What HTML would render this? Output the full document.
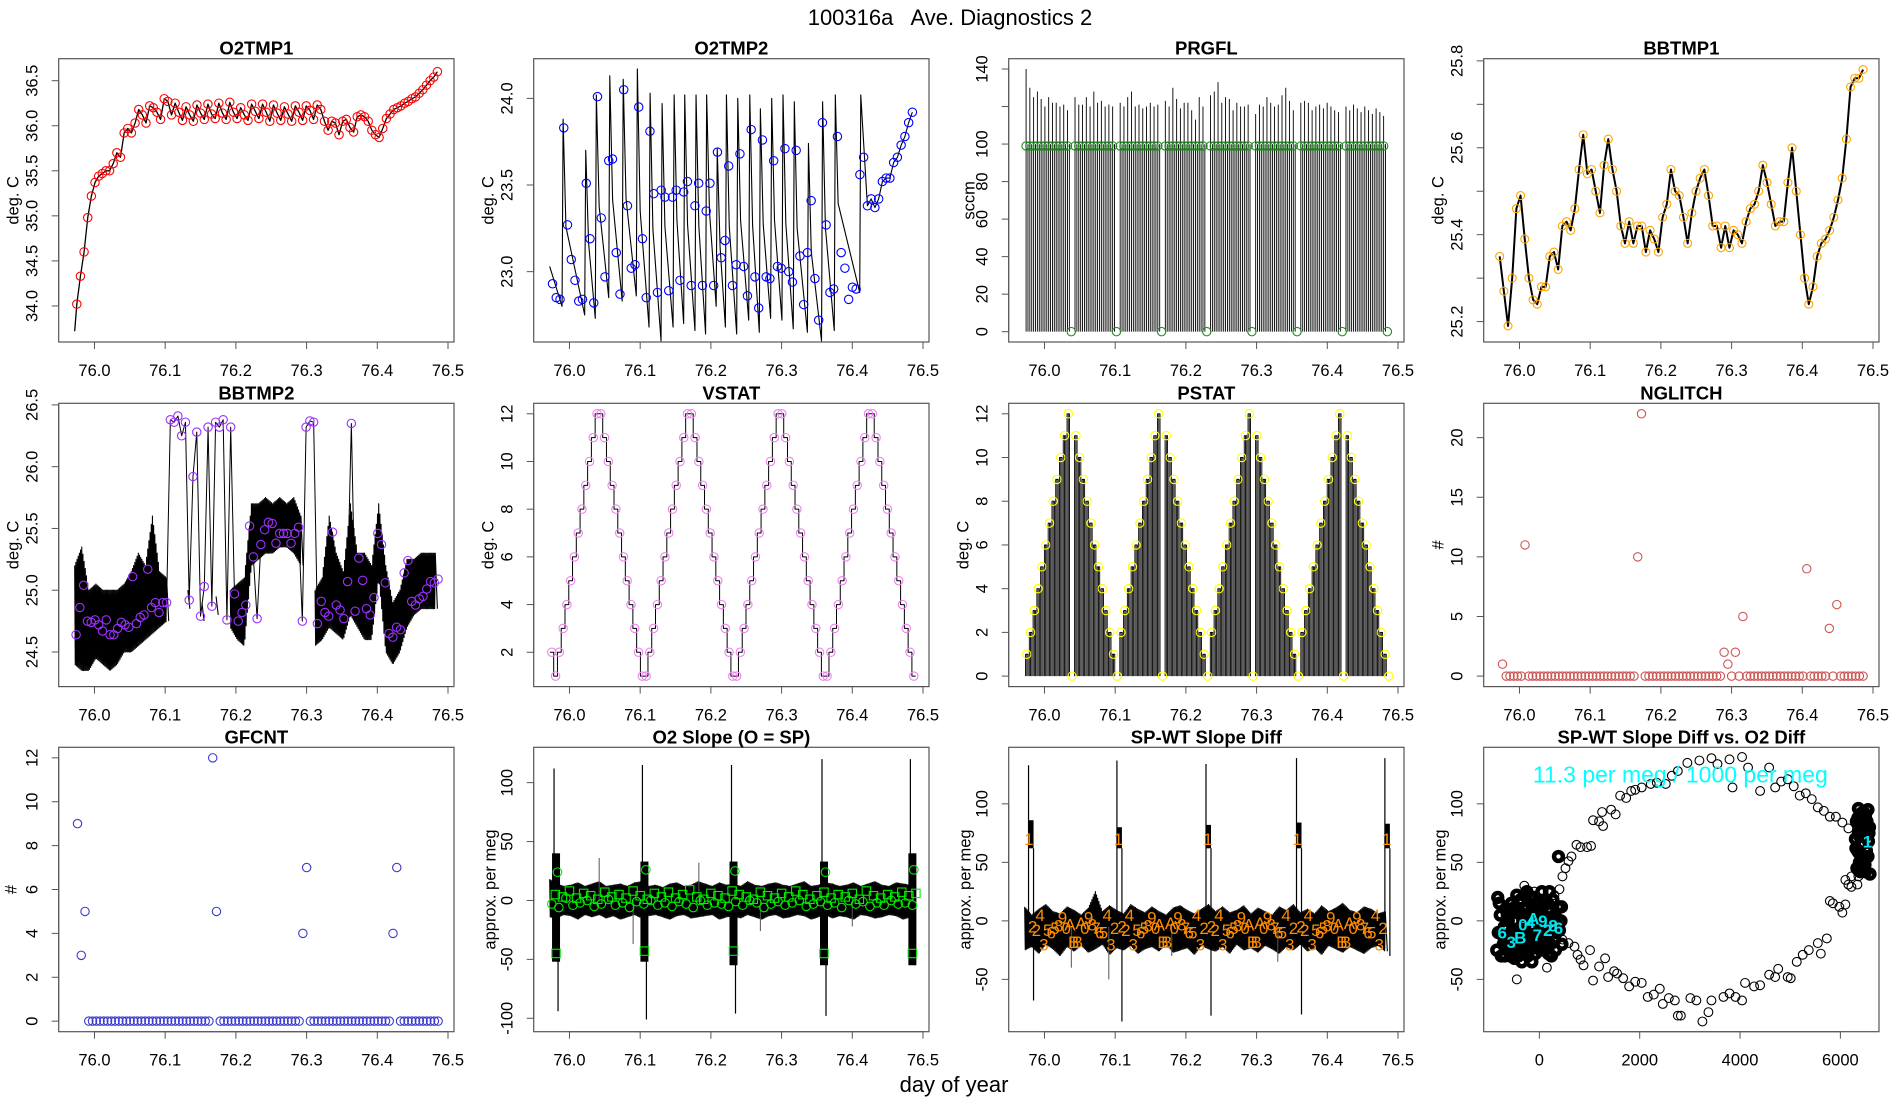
<!DOCTYPE html>
<html><head><meta charset="utf-8"><title>100316a Ave. Diagnostics 2</title>
<style>html,body{margin:0;padding:0;background:#fff;}svg{display:block;font-family:"Liberation Sans",sans-serif;}</style>
</head><body>
<svg id="chart" xmlns="http://www.w3.org/2000/svg" width="1900" height="1100" viewBox="0 0 1900 1100">
<rect x="0" y="0" width="1900" height="1100" fill="#fff"/>
<text x="950" y="25" text-anchor="middle" font-size="22" fill="#000" style="white-space:pre">100316a   Ave. Diagnostics 2</text>
<text x="954" y="1092" text-anchor="middle" font-size="22" fill="#000">day of year</text>
</svg>
<script>
// ---------- data ----------
const timeTicks=[76.0,76.1,76.2,76.3,76.4,76.5];
const timeTickLabels=["76.0","76.1","76.2","76.3","76.4","76.5"];
const o2tmp1Start=[75.972,33.72];
const o2tmp1Vals=[34.02,34.33,34.6,34.98,35.22,35.37,35.44,35.47,35.5,35.5,35.58,35.7,35.65,35.92,35.97,35.92,36.03,36.18,36.12,36.03,36.22,36.2,36.15,36.07,36.3,36.27,36.12,
36.25,36.15,36.06,36.21,36.12,36.05,36.23,36.14,36.07,36.24,36.13,36.08,36.25,36.14,36.07,36.26,36.15,36.08,36.2,36.12,36.06,36.24,36.16,36.08,36.24,36.15,36.05,36.23,36.14,36.06,36.21,36.13,36.05,36.22,36.15,36.06,36.22,36.17,36.07,36.23,36.18,
36.05,35.95,36.05,36.03,35.9,36.05,36.07,35.98,35.93,36.1,36.12,36.1,36.05,35.95,35.9,35.87,35.97,36.08,36.13,36.18,36.2,36.22,36.25,36.27,36.3,36.32,36.36,36.4,36.45,36.5,36.54,36.6];
const o2tmp1T0=75.975, o2tmp1T1=76.485;
const o2tmp2PeakT=[75.991,76.023,76.038,76.057,76.076,76.096,76.114,76.131,76.148,76.163,76.179,76.194,76.209,76.222,76.238,76.255,76.270,76.286,76.302,76.318,76.338,76.358,76.376,76.412];
const o2tmp2PeakV=[23.88,23.70,24.02,24.13,24.11,24.17,24.03,23.97,24.02,24.02,24.02,24.02,23.71,24.02,24.0,24.02,23.94,24.0,24.02,23.98,23.74,23.98,24.02,24.02];
const o2tmp2TroughV=[22.8,22.75,22.73,22.85,22.83,22.86,22.68,22.6,22.68,22.7,22.66,22.64,22.8,22.68,22.64,22.72,22.65,22.73,22.72,22.67,22.65,22.6,22.66,22.88];
const o2tmp2Start=[75.972,23.03];
const o2tmp2Circ=[22.93,22.85,22.84,23.83,23.27,23.07,22.95,22.83,22.84,23.51,23.19,22.82,24.01,23.31,22.97,23.64,23.65,23.11,22.87,24.05,23.38,23.02,23.04,23.95,23.19,22.85,23.81,23.45,22.88,23.47,23.43,22.89,23.43,23.47,22.95,23.46,23.52,22.92,23.38,23.51,22.92,23.35,23.51,22.92,23.69,23.08,23.18,23.61,22.92,23.04,23.68,23.03,22.86,23.82,22.97,22.79,23.76,22.97,22.96,23.64,23.03,23.02,23.71,23.00,22.94,23.70,23.09,22.81,23.11,23.41,22.96,22.72,23.86,23.27,22.88,22.90,23.78,23.11,23.02,22.84,22.91,22.90,23.56,23.66,23.38,23.42,23.37,23.42,23.52,23.54,23.54,23.63,23.66,23.73,23.78,23.86,23.92];
const o2tmp2T0=75.976, o2tmp2T1=76.485;
const prgflSpike=[140,130,125,128,124,120,125,122,122,120,121,118,0,125,121,121,125,120,128,122,123,120,121,120,0,122,120,125,128,120,121,119,120,122,120,121,0,123,120,130,124,119,122,122,118,113,125,120,0,126,128,133,122,125,124,118,122,120,120,121,0,116,121,120,125,122,120,121,126,130,123,118,0,122,123,122,118,120,121,119,122,120,118,117,0,120,118,121,119,117,120,118,116,119,117,115,0];
const prgflT0=75.974, prgflT1=76.485;
const bbtmp1Vals=[25.35,25.27,25.19,25.3,25.46,25.49,25.39,25.3,25.25,25.24,25.28,25.28,25.35,25.36,25.32,25.42,25.43,25.41,25.46,25.55,25.63,25.54,25.55,25.5,25.45,25.56,25.62,25.55,25.5,25.42,25.38,25.43,25.38,25.42,25.42,25.36,25.41,25.39,25.36,25.44,25.47,25.55,25.5,25.49,25.44,25.38,25.45,25.5,25.53,25.55,25.49,25.42,25.42,25.37,25.42,25.37,25.41,25.4,25.38,25.43,25.46,25.47,25.5,25.56,25.52,25.47,25.42,25.43,25.43,25.52,25.6,25.5,25.4,25.3,25.24,25.28,25.35,25.38,25.39,25.41,25.44,25.48,25.53,25.62,25.74,25.76,25.76,25.78];
const bbtmp1T0=75.972, bbtmp1T1=76.486;
const bbtmp2Circ=[24.64,24.86,25.04,24.75,24.74,24.76,24.72,24.67,24.76,24.64,24.64,24.69,24.74,24.72,24.70,25.11,24.73,24.78,24.80,25.17,24.86,24.90,24.82,24.90,24.90,26.38,26.36,26.41,26.25,26.36,24.92,25.92,26.28,24.79,25.03,26.32,24.87,26.36,26.32,26.38,24.76,26.32,24.97,24.75,24.82,24.88,25.52,25.27,24.77,25.37,25.49,25.55,25.54,25.38,25.46,25.46,25.46,25.38,25.46,25.51,24.75,26.32,26.37,26.36,24.73,24.91,24.82,24.79,25.47,24.88,24.84,24.77,25.07,26.35,24.83,25.26,25.08,24.85,24.80,24.94,25.46,25.37,25.06,24.65,24.62,24.70,24.68,25.14,25.24,24.91,24.88,24.93,24.95,25.01,25.07,25.06,25.09];
const bbtmp2T0=75.974, bbtmp2T1=76.486;
const bbtmp2Hi=[25.2,25.35,25.0,25.05,25.0,25.0,25.0,25.05,25.15,25.3,25.2,25.6,25.15,25.1,null,null,25.0,null,24.9,null,24.95,null,25.0,25.05,25.1,25.7,25.7,25.75,25.7,25.75,25.7,25.75,25.6,null,25.0,25.1,25.6,25.3,25.15,25.7,25.3,25.3,25.2,25.7,25.2,24.9,25.0,25.25,25.25,25.3,25.3,25.3];
const bbtmp2Lo=[24.4,24.35,24.35,24.45,24.4,24.35,24.4,24.5,24.5,24.55,24.6,24.65,24.7,24.75,null,null,24.85,null,24.75,null,24.8,null,24.7,24.6,24.55,25.2,25.25,25.3,25.3,25.35,25.35,25.3,25.2,null,24.55,24.6,24.7,24.65,24.6,24.8,24.7,24.6,24.6,25.1,24.5,24.4,24.5,24.7,24.8,24.85,24.85,24.85];
const bandT0=75.975, bandDt=0.01;
const vstatVals=[2,1,2,3,4,5,6,7,8,9,10,11,12,12,11,10,9,8,7,6,5,4,3,2,1,1,2,3,4,5,6,7,8,9,10,11,12,12,11,10,9,8,7,6,5,4,3,2,1,1,2,3,4,5,6,7,8,9,10,11,12,12,11,10,9,8,7,6,5,4,3,2,1,1,2,3,4,5,6,7,8,9,10,11,12,12,11,10,9,8,7,6,5,4,3,2,1];
const pstatVals=[1,2,3,4,5,6,7,8,9,10,11,12,0,11,10,9,8,7,6,5,4,3,2,1,0,2,3,4,5,6,7,8,9,10,11,12,0,11,10,9,8,7,6,5,4,3,2,1,0,2,3,4,5,6,7,8,9,10,11,12,0,11,10,9,8,7,6,5,4,3,2,1,0,2,3,4,5,6,7,8,9,10,11,12,0,11,10,9,8,7,6,5,4,3,2,1,0];
const statT0=75.975, statT1=76.487;
const nglitchVals=[1,0,0,0,0,0,11,0,0,0,0,0,0,0,0,0,0,0,0,0,0,0,0,0,0,0,0,0,0,0,0,0,0,0,0,0,10,22,0,0,0,0,0,0,0,0,0,0,0,0,0,0,0,0,0,0,0,0,0,2,1,0,2,0,5,0,0,0,0,0,0,0,0,0,0,0,0,0,0,0,0,9,0,0,0,0,0,4,0,6,0,0,0,0,0,0,0];
const gfcntVals=[9,3,5,0,0,0,0,0,0,0,0,0,0,0,0,0,0,0,0,0,0,0,0,0,0,0,0,0,0,0,0,0,0,0,0,0,12,5,0,0,0,0,0,0,0,0,0,0,0,0,0,0,0,0,0,0,0,0,0,0,4,7,0,0,0,0,0,0,0,0,0,0,0,0,0,0,0,0,0,0,0,0,0,0,4,7,0,0,0,0,0,0,0,0,0,0,0];
const countT0=75.976, countT1=76.486;
const slopeHi=[18,14,12,13,15,12,14,16,12,13,14,12,15,16,12,13,11,14,15,12,13,16,14,12,15,13,14,12,16,13,12,14,15,13,12,14,16,12,13,15,14,12,13,15,12,14,16,13,12,15,14,13];
const slopeLo=[-14,-15,-12,-13,-16,-12,-14,-12,-15,-13,-16,-14,-12,-15,-13,-12,-14,-16,-13,-12,-15,-14,-13,-12,-16,-14,-13,-15,-12,-14,-16,-13,-12,-15,-14,-12,-13,-16,-14,-12,-15,-13,-14,-16,-12,-13,-15,-14,-12,-13,-16,-14];
const slopeCirc=[-3,-6,2,-4,-2,0,-5,-3,1,-4,-2,-6,-1,-3,0,-4,-2,-5,-1,-3,-6,0,-4,-2,-3,-5,-1,-4,0,-2,-6,-3,-1,-4,-2,0,-5,-3,-1,-4,-2,-6,0,-3,-1,-5,-2,-4,0,-3,-2,-4];
const slopeSq=[5,3,8,2,6,4,1,7,3,5,2,8,4,1,6,3,7,2,5,9,3,1,6,4,2,8,5,3,1,7,4,2,6,3,8,5,1,4,7,2,5,3,6,1,8,4,2,5,3,7,4,6];
const burstT=[75.981,76.106,76.232,76.360,76.485];
const slopeBurstHi=[40,33,33,33,40];
const slopeBurstLo=[-52,-52,-55,-55,-55];
const slopeSpikeTop=[112,115,115,120,120];
const slopeSpikeBot=[-94,-101,-96,-98,-55];
const slopeBurstCirc=[24,26,25,24,26];
const slopeBurstSq=[-45,-43,-43,-45,-45];
const slopeExtraT=[76.042,76.09,76.183,76.27,76.4];
const slopeExtraV=[36,-37,32,-26,-22];
const spwtHi=[12,5,10,14,8,6,12,9,5,11,25,8,13,9,6,14,10,7,12,8,5,11,13,9,6,10,14,8,12,7,9,13,6,11,8,5,12,9,14,7,10,6,13,8,11,15,9,7,12,10,6,8];
const spwtLo=[-25,-22,-28,-20,-24,-30,-22,-26,-21,-27,-24,-20,-29,-23,-25,-21,-28,-24,-22,-26,-20,-27,-25,-23,-29,-21,-24,-26,-22,-28,-20,-25,-23,-27,-21,-24,-28,-22,-25,-20,-26,-23,-29,-21,-24,-27,-22,-25,-28,-23,-21,-26];
const spwtPlatLo=[62,62,62,62,62];
const spwtPlatHi=[86,80,82,84,83];
const spwtSpikeTop=[133,137,134,139,139];
const spwtSpikeBot=[-68,-86,-81,-80,-30];
const spwtExtraT=[76.038,76.091,76.18,76.33];
const spwtExtraV=[-40,-50,-30,-35];
const spwtChars=["1","2","2","4","3","5","6","5","8","9","0","A","B","B","A","0","9","8","7","6","5","4","3","2","1","2","2","4","3","5","6","5","8","9","0","A","B","B","A","0","9","8","7","6","5","4","3","2","1","2","2","4","3","5","6","5","8","9","0","A","B","B","A","0","9","8","7","6","5","4","3","2","1","2","2","4","3","5","6","5","8","9","0","A","B","B","A","0","9","8","7","6","5","4","3","2","1"];
const spwtCharVals=[70,-5,-8,5,-20,-8,-10,-6,-4,3,-6,-3,-18,-18,-2,-6,3,-3,-6,-10,-10,5,-20,-6,70,-5,-8,5,-20,-8,-10,-6,-4,3,-6,-3,-18,-18,-2,-6,3,-3,-6,-10,-10,5,-20,-6,70,-5,-8,5,-20,-8,-10,-6,-4,3,-6,-3,-18,-18,-2,-6,3,-3,-6,-10,-10,5,-20,-6,70,-5,-8,5,-20,-8,-10,-6,-4,3,-6,-3,-18,-18,-2,-6,3,-3,-6,-10,-10,5,-20,-6,70];
const spwtT0=75.978, spwtT1=76.484;
const ringX=[400,460,520,580,640,740,820,950,1030,1070,1190,1250,1270,1430,1520,1610,1730,1830,1910,2040,2220,2340,2520,2640,2760,2950,3190,3430,3550,3790,3850,4040,4160,4400,4580,4700,4820,4950,5070,5190,5310,5430,5550,5670,5790,5910,6040,6160,6340,6460,6520,6460,6340,6220,6100,6340,6160,
460,580,700,760,820,880,1010,1070,1190,1310,1370,1490,1550,1670,1790,1910,2040,2160,2280,2400,2460,2580,2700,2760,2820,3010,3130,3250,3370,3430,3670,3790,3910,4040,4100,4280,4400,4580,4700,4760,4950,5010,5130,5250,5370,5550,5610,5730,5790,5850,5980,6040,6100,6220,6360,6460,-450,-300,-100,150,300];
const ringY=[27,38,45,51,55,65,63,63,64,86,85,93,81,95,91,107,105,111,112,114,117,118,117,124,128,135,137,139,134,138,114,140,131,111,131,114,119,121,115,107,109,104,97,94,89,89,84,79,78,74,59,47,42,38,35,31,31,
-16,-19,-22,-29,-33,-38,-25,-51,-39,-32,-48,-43,-45,-49,-56,-52,-53,-65,-63,-58,-71,-66,-68,-81,-81,-66,-68,-86,-78,-68,-65,-62,-65,-68,-53,-56,-55,-46,-48,-41,-48,-49,-35,-29,-25,-19,-28,-15,17,15,12,7,14,29,38,45,-50,30,25,-40,22];
const clusterX=[-700,-650,-600,-550,-500,-450,-400,-350,-300,-250,-200,-150,-100,-50,0,50,100,150,200,250,300,350,400,450,-720,-680,-620,-580,-520,-480,-420,-380,-320,-280,-220,-180,-120,-80,-30,20,70,120,170,220,270,320,380,430,-740,-690,-640,-560,-460,-360,-260,-160,-60,40,140,240,340,440,-600,-500,-400,-300,-200,-100,0,100,200,300,-350,-150,50,-250,-450,-820,-780,-850,-800,-760,-830,-700,-650,-560,-480,-420,-330,-230,-130,-20,80,180,280,380,
6300,6320,6340,6360,6380,6400,6420,6440,6460,6480,6500,6520,6540,6560,6580,6310,6330,6350,6370,6390,6410,6430,6450,6470,6490,6510,6530,6550,6570,6590,6400,6450,6500,6550,6360,6420,6480,6560];
const clusterY=[-5,-15,-25,-10,0,-20,-8,5,-15,-28,-5,10,-18,-2,15,-12,3,-22,8,-6,-15,2,-8,-20,-20,10,0,-30,-22,12,-30,18,-3,10,-18,20,2,-28,-15,-25,12,-8,15,-20,18,-25,12,0,-12,-30,5,15,-12,-20,-12,-10,8,0,-2,-30,-10,12,8,-32,8,22,-25,20,-20,-25,25,5,-35,-35,25,25,22,-10,5,-25,15,-30,20,-18,-5,10,-22,-15,0,-30,-8,-20,5,-28,-5,
55,70,85,60,75,50,88,65,80,55,72,90,60,78,68,80,62,45,88,58,72,52,90,66,84,48,75,85,55,75,40,42,45,42,95,96,92,92];
const scatLabels=["6","3","B","0","4","A","7","9","2","8","6","1"];
const scatLabX=[-740,-560,-380,-330,-180,-120,-40,70,170,270,380,6540];
const scatLabY=[-10,-18,-14,-3,-1,2,-12,0,-8,-4,-6,68];

// ---------- helpers ----------
const NS='http://www.w3.org/2000/svg';
const svg=document.getElementById('chart');
function mk(tag,attrs,parent){const e=document.createElementNS(NS,tag);for(const k in attrs)e.setAttribute(k,attrs[k]);(parent||svg).appendChild(e);return e;}
const TIME_LIM=[75.9494,76.5085];
const ROW_TOP=[58.7,403.3,747.3], ROW_H=[283.3,283.3,284.4];
function makePanel(col,row,xlim,ylim,key){
  const left=58.7+475*col, top=ROW_TOP[row], w=395.3, h=ROW_H[row];
  const g=mk('g',{});
  
  
  const cp=mk('clipPath',{id:'clip-'+key},g);
  mk('rect',{x:left,y:top,width:w,height:h},cp);
  const data=mk('g',{'clip-path':'url(#clip-'+key+')'},g);
  
  
  return {g,data,left,top,w,h,
    x:t=>left+(t-xlim[0])/(xlim[1]-xlim[0])*w,
    y:v=>top+h-(v-ylim[0])/(ylim[1]-ylim[0])*h};
}
function axes(p,key,title,ylab,xt,xl,yt,yl,ylabOff){
  const b=mk('rect',{x:p.left,y:p.top,width:p.w,height:p.h,fill:'none',stroke:'#555','stroke-width':1.2},p.g);
  
  
  const t=mk('text',{x:p.left+p.w/2,y:p.top-4,'text-anchor':'middle','font-size':18.5,'font-weight':'bold'},p.g);
  t.textContent=title;
  
  
  const xa=mk('g',{},p.g);
  
  
  const bot=p.top+p.h;
  mk('line',{x1:p.x(xt[0]),x2:p.x(xt[xt.length-1]),y1:bot,y2:bot,stroke:'#555'},xa);
  xt.forEach((v,i)=>{const X=p.x(v);
    mk('line',{x1:X,x2:X,y1:bot,y2:bot+7,stroke:'#555'},xa);
    const l=mk('text',{x:X,y:bot+34,'text-anchor':'middle','font-size':16.5},xa);
    l.textContent=xl[i];
    
    });
  const ya=mk('g',{},p.g);
  
  
  mk('line',{x1:p.left,x2:p.left,y1:p.y(yt[0]),y2:p.y(yt[yt.length-1]),stroke:'#555'},ya);
  yt.forEach((v,i)=>{const Y=p.y(v);
    mk('line',{x1:p.left-7,x2:p.left,y1:Y,y2:Y,stroke:'#555'},ya);
    if(yl[i]!==''){const bx=p.left-21;
      const l=mk('text',{x:bx,y:Y,'text-anchor':'middle','font-size':16.5,transform:'rotate(-90 '+bx+' '+Y+')'},ya);
      l.textContent=yl[i];
      
      }});
  const lx=p.left-ylabOff+6, ly=p.top+p.h/2;
  const yt2=mk('text',{x:lx,y:ly,'text-anchor':'middle','font-size':16.5,transform:'rotate(-90 '+lx+' '+ly+')'},p.g);
  yt2.textContent=ylab;
  
  
}
function seqT(t0,t1,n,i){return t0+(t1-t0)*i/(n-1);}
function poly(p,pts,stroke,sw,name){
  const e=mk('polyline',{points:pts.map(q=>p.x(q[0]).toFixed(2)+','+p.y(q[1]).toFixed(2)).join(' '),fill:'none',stroke:stroke,'stroke-width':sw,'stroke-linejoin':'round'},p.data);
  
  
  return e;
}
function circles(p,pts,color,name,r,sw){
  const g=mk('g',{fill:'none',stroke:color,'stroke-width':sw||1.1},p.data);
  
  
  pts.forEach(q=>{const c=mk('circle',{cx:p.x(q[0]).toFixed(2),cy:p.y(q[1]).toFixed(2),r:r||4.2},g);
    
    });
}
function band(p,hi,lo,t0,dt,sub,name,sw){
  const segs=[];let cur=[];
  for(let i=0;i<hi.length;i++){
    if(hi[i]===null){if(cur.length)segs.push(cur);cur=[];continue;}
    if(i+1<hi.length&&hi[i+1]!==null){
      for(let k=0;k<sub;k++){const f=k/sub,t=t0+dt*(i+f);
        const h=hi[i]+(hi[i+1]-hi[i])*f,l=lo[i]+(lo[i+1]-lo[i])*f;
        cur.push([t,k%2?l:h]);}
    }else{cur.push([t0+dt*i,hi[i]]);cur.push([t0+dt*i+dt*0.3,lo[i]]);}
  }
  if(cur.length)segs.push(cur);
  segs.forEach(s=>poly(p,s,'#000',sw||1,name));
}

// ---------- O2TMP1 ----------
{const p=makePanel(0,0,TIME_LIM,[33.6,36.744],'o2tmp1');
 const n=o2tmp1Vals.length;
 const pts=[o2tmp1Start].concat(o2tmp1Vals.map((v,i)=>[seqT(o2tmp1T0,o2tmp1T1,n,i),v]));
 poly(p,pts,'#000',1.3,'o2tmp1-line');
 circles(p,pts.slice(1),'#ff0000','o2tmp1-markers');
 axes(p,'o2tmp1','O2TMP1','deg. C',timeTicks,timeTickLabels,[34,34.5,35,35.5,36,36.5],['34.0','34.5','35.0','35.5','36.0','36.5'],46);}

// ---------- O2TMP2 ----------
{const p=makePanel(1,0,TIME_LIM,[22.594,24.229],'o2tmp2');
 const n=o2tmp2Circ.length;
 const circ=o2tmp2Circ.map((v,i)=>[seqT(o2tmp2T0,o2tmp2T1,n,i),v]);
 const pts=[o2tmp2Start];
 for(let i=0;i<o2tmp2PeakT.length;i++){
   pts.push([o2tmp2PeakT[i]-0.0015,o2tmp2TroughV[i]]);
   pts.push([o2tmp2PeakT[i],o2tmp2PeakV[i]]);
   if(i+1<o2tmp2PeakT.length){const nt=o2tmp2TroughV[i+1];
     pts.push([o2tmp2PeakT[i]+0.004,nt+(o2tmp2PeakV[i]-nt)*0.45]);}
 }
 circ.filter(q=>q[0]>76.418).forEach(q=>pts.push(q));
 poly(p,pts,'#000',1.1,'o2tmp2-line');
 circles(p,circ,'#0000ff','o2tmp2-markers');
 axes(p,'o2tmp2','O2TMP2','deg. C',timeTicks,timeTickLabels,[23,23.5,24],['23.0','23.5','24.0'],46);}

// ---------- PRGFL ----------
{const p=makePanel(2,0,TIME_LIM,[-5.5,145.5],'prgfl');
 const n=prgflSpike.length, dt=(prgflT1-prgflT0)/(n-1);
 const g=mk('g',{stroke:'#000','stroke-width':0.9},p.data);
 
 
 prgflSpike.forEach((v,i)=>{if(v===0)return;const t=prgflT0+dt*i;
   mk('line',{x1:p.x(t),x2:p.x(t),y1:p.y(0),y2:p.y(v)},g);
   mk('line',{x1:p.x(t+dt/2),x2:p.x(t+dt/2),y1:p.y(0),y2:p.y(100)},g);});
 circles(p,prgflSpike.map((v,i)=>[prgflT0+dt*i,v===0?0:99]),'#228b22','prgfl-markers');
 axes(p,'prgfl','PRGFL','sccm',timeTicks,timeTickLabels,[0,20,40,60,80,100,120,140],['0','20','40','60','80','100','','140'],40);}

// ---------- BBTMP1 ----------
{const p=makePanel(3,0,TIME_LIM,[25.153,25.805],'bbtmp1');
 const n=bbtmp1Vals.length;
 const pts=bbtmp1Vals.map((v,i)=>[seqT(bbtmp1T0,bbtmp1T1,n,i),v]);
 poly(p,pts,'#000',2,'bbtmp1-line');
 circles(p,pts,'#ffa500','bbtmp1-markers',4);
 axes(p,'bbtmp1','BBTMP1','deg. C',timeTicks,timeTickLabels,[25.2,25.3,25.4,25.5,25.6,25.7,25.8],['25.2','','25.4','','25.6','','25.8'],46);}

// ---------- BBTMP2 ----------
{const p=makePanel(0,1,TIME_LIM,[24.22,26.513],'bbtmp2');
 band(p,bbtmp2Hi,bbtmp2Lo,bandT0-0.003,bandDt,12,'bbtmp2-noise-band',1.1);
 const n=bbtmp2Circ.length;
 const pts=bbtmp2Circ.map((v,i)=>[seqT(bbtmp2T0,bbtmp2T1,n,i),v]);
 poly(p,pts,'#000',1,'bbtmp2-line');
 circles(p,pts,'#9b30ff','bbtmp2-markers');
 axes(p,'bbtmp2','BBTMP2','deg. C',timeTicks,timeTickLabels,[24.5,25,25.5,26,26.5],['24.5','25.0','25.5','26.0','26.5'],46);}

// ---------- VSTAT ----------
{const p=makePanel(1,1,TIME_LIM,[0.56,12.44],'vstat');
 const n=vstatVals.length, dt=(statT1-statT0)/(n-1);
 const pts=[];
 vstatVals.forEach((v,i)=>{const t=statT0+dt*i;pts.push([t-dt/2,v]);pts.push([t+dt/2,v]);});
 poly(p,pts,'#000',1,'vstat-step-line');
 circles(p,vstatVals.map((v,i)=>[statT0+dt*i,v]),'#ee82ee','vstat-markers');
 axes(p,'vstat','VSTAT','deg. C',timeTicks,timeTickLabels,[2,4,6,8,10,12],['2','4','6','8','10','12'],46);}

// ---------- PSTAT ----------
{const p=makePanel(2,1,TIME_LIM,[-0.48,12.48],'pstat');
 const n=pstatVals.length, dt=(statT1-statT0)/(n-1);
 const g=mk('g',{stroke:'#000','stroke-width':0.9},p.data);
 
 
 pstatVals.forEach((v,i)=>{const t=statT0+dt*i;if(v===0)return;
   [-0.33,0,0.33].forEach(o=>{const X=p.x(t+o*dt);mk('line',{x1:X,x2:X,y1:p.y(0),y2:p.y(v)},g);});
   mk('line',{x1:p.x(t-0.4*dt),x2:p.x(t+0.4*dt),y1:p.y(v),y2:p.y(v)},g);});
 circles(p,pstatVals.map((v,i)=>[statT0+dt*i,v]),'#ffff00','pstat-markers');
 axes(p,'pstat','PSTAT','deg. C',timeTicks,timeTickLabels,[0,2,4,6,8,10,12],['0','2','4','6','8','10','12'],46);}

// ---------- NGLITCH ----------
{const p=makePanel(3,1,TIME_LIM,[-0.88,22.88],'nglitch');
 const n=nglitchVals.length;
 circles(p,nglitchVals.map((v,i)=>[seqT(countT0,countT1,n,i),v]),'#cd5555','nglitch-markers');
 axes(p,'nglitch','NGLITCH','#',timeTicks,timeTickLabels,[0,5,10,15,20],['0','5','10','15','20'],46);}

// ---------- GFCNT ----------
{const p=makePanel(0,2,TIME_LIM,[-0.48,12.48],'gfcnt');
 const n=gfcntVals.length;
 circles(p,gfcntVals.map((v,i)=>[seqT(countT0,countT1,n,i),v]),'#3a3acf','gfcnt-markers');
 axes(p,'gfcnt','GFCNT','#',timeTicks,timeTickLabels,[0,2,4,6,8,10,12],['0','2','4','6','8','10','12'],48);}

// ---------- O2 Slope ----------
{const p=makePanel(1,2,TIME_LIM,[-111.4,130],'o2slope');
 band(p,slopeHi,slopeLo,bandT0-0.003,bandDt,12,'o2slope-noise-band',1.1);
 const g=mk('g',{stroke:'#000'},p.data);
 
 
 burstT.forEach((t,i)=>{
   mk('rect',{x:p.x(t)-4,y:p.y(slopeBurstHi[i]),width:8,height:p.y(slopeBurstLo[i])-p.y(slopeBurstHi[i]),fill:'#000',stroke:'none'},g);
   mk('line',{x1:p.x(t)-2,x2:p.x(t)-2,y1:p.y(0),y2:p.y(slopeSpikeTop[i]),'stroke-width':1.2},g);
   mk('line',{x1:p.x(t)+2,x2:p.x(t)+2,y1:p.y(0),y2:p.y(slopeSpikeBot[i]),'stroke-width':1.2},g);});
 slopeExtraT.forEach((t,i)=>mk('line',{x1:p.x(t),x2:p.x(t),y1:p.y(0),y2:p.y(slopeExtraV[i]),'stroke-width':1,stroke:'#555'},g));
 circles(p,slopeCirc.map((v,i)=>[bandT0+bandDt*i,v]),'#00ee00','o2slope-circle-markers',4.3);
 const sq=mk('g',{fill:'none',stroke:'#00ee00','stroke-width':1.1},p.data);
 
 
 slopeSq.forEach((v,i)=>{const r=mk('rect',{x:p.x(bandT0+bandDt*(i+0.5))-4.2,y:p.y(v)-4.2,width:8.4,height:8.4},sq);
   
   });
 circles(p,burstT.map((t,i)=>[t+0.002,slopeBurstCirc[i]]),'#00ee00','o2slope-burst-circles',4.3);
 burstT.forEach((t,i)=>{const r=mk('rect',{x:p.x(t)-4.2,y:p.y(slopeBurstSq[i])-4.2,width:8.4,height:8.4},sq);
   
   });
 axes(p,'o2slope','O2 Slope (O = SP)','approx. per meg',timeTicks,timeTickLabels,[-100,-50,0,50,100],['-100','-50','0','50','100'],44);}

// ---------- SP-WT Slope Diff ----------
{const p=makePanel(2,2,TIME_LIM,[-94.7,148.3],'spwt');
 band(p,spwtHi,spwtLo,bandT0-0.003,bandDt,12,'spwt-noise-band',1.1);
 const g=mk('g',{stroke:'#000'},p.data);
 
 
 burstT.forEach((t,i)=>{
   mk('rect',{x:p.x(t)-2.5,y:p.y(spwtPlatHi[i]),width:5,height:p.y(spwtPlatLo[i])-p.y(spwtPlatHi[i]),fill:'#000',stroke:'none'},g);
   mk('line',{x1:p.x(t)-2.5,x2:p.x(t)-2.5,y1:p.y(-5),y2:p.y(spwtSpikeTop[i]),'stroke-width':1.2},g);
   mk('line',{x1:p.x(t)+2.5,x2:p.x(t)+2.5,y1:p.y(spwtPlatLo[i]),y2:p.y(spwtSpikeBot[i]),'stroke-width':1.2},g);});
 spwtExtraT.forEach((t,i)=>mk('line',{x1:p.x(t),x2:p.x(t),y1:p.y(-5),y2:p.y(spwtExtraV[i]),'stroke-width':1,stroke:'#555'},g));
 const lg=mk('g',{fill:'#ff8c00','font-size':17,'text-anchor':'middle'},p.data);
 
 
 const n=spwtChars.length;
 spwtChars.forEach((c,i)=>{const t=seqT(spwtT0,spwtT1,n,i);
   const e=mk('text',{x:p.x(t).toFixed(2),y:(p.y(spwtCharVals[i])+6).toFixed(2)},lg);
   e.textContent=c;
   
   });
 axes(p,'spwt','SP-WT Slope Diff','approx. per meg',timeTicks,timeTickLabels,[-50,0,50,100],['-50','0','50','100'],44);}

// ---------- Scatter ----------
{const p=makePanel(3,2,[-1110,6770],[-94.7,148.3],'scatter');
 circles(p,clusterX.map((x,i)=>[x,clusterY[i]]),'#000','scatter-cluster-points',4.4,4.5);
 circles(p,ringX.map((x,i)=>[x,ringY[i]]),'#000','scatter-points',4.4,1.1);
 const lg=mk('g',{fill:'#00e5ee','font-size':17,'font-weight':'bold','text-anchor':'middle'},p.data);
 
 
 scatLabels.forEach((s,i)=>{const e=mk('text',{x:p.x(scatLabX[i]).toFixed(2),y:(p.y(scatLabY[i])+6).toFixed(2)},lg);
   e.textContent=s;
   
   });
 const ann=mk('text',{x:p.left+p.w/2-1,y:p.top+35,'text-anchor':'middle','font-size':23,fill:'#00ffff'},p.g);
 ann.textContent='11.3 per meg / 1000 per meg';
 
 
 axes(p,'scatter','SP-WT Slope Diff vs. O2 Diff','approx. per meg',[0,2000,4000,6000],['0','2000','4000','6000'],[-50,0,50,100],['-50','0','50','100'],44);}
</script>
</body></html>
